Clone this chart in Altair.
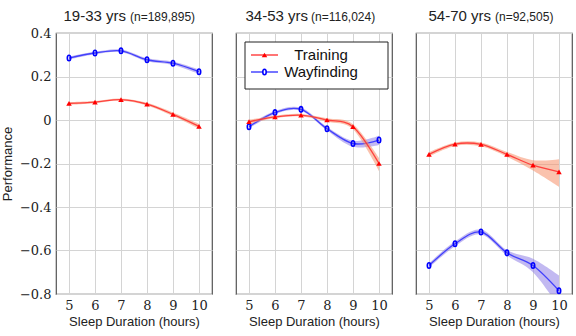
import altair as alt
import pandas as pd

# ---------------- data ----------------
hours = [5, 6, 7, 8, 9, 10]
panels = ["19-33 yrs", "34-53 yrs", "54-70 yrs"]
ns = ["(n=189,895)", "(n=116,024)", "(n=92,505)"]
series_names = ["Training", "Wayfinding"]

train_1 = [0.076, 0.082, 0.094, 0.073, 0.026, -0.029]
train_1_lo = [0.070, 0.077, 0.089, 0.067, 0.018, -0.040]
train_1_hi = [0.082, 0.087, 0.099, 0.079, 0.034, -0.018]
way_1 = [0.285, 0.308, 0.318, 0.277, 0.261, 0.222]
way_1_lo = [0.278, 0.302, 0.312, 0.270, 0.253, 0.212]
way_1_hi = [0.292, 0.314, 0.324, 0.284, 0.269, 0.232]

train_2 = [-0.008, 0.014, 0.022, 0.000, -0.031, -0.200]
train_2_lo = [-0.017, 0.008, 0.016, -0.008, -0.043, -0.235]
train_2_hi = [0.001, 0.020, 0.028, 0.008, -0.019, -0.174]
way_2 = [-0.031, 0.034, 0.049, -0.040, -0.108, -0.092]
way_2_lo = [-0.039, 0.027, 0.042, -0.048, -0.123, -0.115]
way_2_hi = [-0.023, 0.041, 0.056, -0.032, -0.095, -0.072]

train_3 = [-0.158, -0.111, -0.112, -0.158, -0.208, -0.238]
train_3_lo = [-0.168, -0.119, -0.121, -0.169, -0.232, -0.307]
train_3_hi = [-0.148, -0.103, -0.103, -0.147, -0.185, -0.180]
way_3 = [-0.669, -0.569, -0.515, -0.611, -0.669, -0.785]
way_3_lo = [-0.679, -0.580, -0.526, -0.623, -0.700, -0.860]
way_3_hi = [-0.659, -0.558, -0.504, -0.599, -0.638, -0.715]

all_series = [
    [(train_1, train_1_lo, train_1_hi), (way_1, way_1_lo, way_1_hi)],
    [(train_2, train_2_lo, train_2_hi), (way_2, way_2_lo, way_2_hi)],
    [(train_3, train_3_lo, train_3_hi), (way_3, way_3_lo, way_3_hi)],
]

# ---------------- styles ----------------
LINE_COL = {"Training": "#ff2a2a", "Wayfinding": "#2a2aff"}
BAND_COL = {"Training": "#f6906a", "Wayfinding": "#8f7fe6"}
MARK_COL = {"Training": "#ff0000", "Wayfinding": "#0000ff"}
SANS = "Liberation Sans"
SERIF = "DejaVu Serif"
ELLIPSE = "M0,-1 A0.62,1 0 1,1 0,1 A0.62,1 0 1,1 0,-1 Z"

PW, PH = 156, 261
x_enc = alt.X("hours:Q", scale=alt.Scale(domain=[4.5, 10.5], nice=False, zero=False),
              axis=alt.Axis(values=hours, format="d", title="Sleep Duration (hours)",
                            labelFont=SERIF, labelFontSize=13, labelColor="#222",
                            labelPadding=5, titleFont=SANS, titleFontSize=13,
                            titleFontWeight="normal", titleColor="#222", titlePadding=3,
                            ticks=False, domain=False, grid=True, gridColor="#d4d4d4",
                            labelFlush=False))
yscale = alt.Scale(domain=[-0.8, 0.4], nice=False, zero=False)


def y_axis(first):
    if first:
        return alt.Axis(values=[-0.8, -0.6, -0.4, -0.2, 0, 0.2, 0.4],
                        labelExpr="datum.value == 0 ? '0' : format(datum.value, '.1f')",
                        title="Performance", labelFont=SERIF, labelFontSize=13,
                        labelColor="#222", labelPadding=5, titleFont=SANS, titleFontSize=13,
                        titleFontWeight="normal", titleColor="#222", titlePadding=5,
                        ticks=False, domain=False, grid=True, gridColor="#d4d4d4")
    return alt.Axis(values=[-0.8, -0.6, -0.4, -0.2, 0, 0.2, 0.4], labels=False, title=None,
                    ticks=False, domain=False, grid=True, gridColor="#d4d4d4")


def panel(i):
    rows = []
    for name, (m, lo, hi) in zip(series_names, all_series[i]):
        for h, v, l, u in zip(hours, m, lo, hi):
            rows.append({"hours": h, "value": v, "lower": l, "upper": u, "series": name})
    df = pd.DataFrame(rows)
    layers = []
    for name in ["Wayfinding", "Training"]:
        sub = alt.Chart(df).transform_filter(alt.datum.series == name)
        band = sub.mark_area(interpolate="cardinal", clip=True, opacity=0.55,
                             color=BAND_COL[name]).encode(
            x=x_enc, y=alt.Y("lower:Q", scale=yscale, axis=y_axis(i == 0)), y2="upper:Q")
        line = sub.mark_line(interpolate="cardinal", clip=True, strokeWidth=1.3,
                             color=LINE_COL[name], opacity=0.85).encode(
            x=x_enc, y=alt.Y("value:Q", scale=yscale))
        if name == "Training":
            pts = sub.mark_point(shape="triangle-up", filled=True, size=30,
                                 color=MARK_COL[name], opacity=1).encode(
                x=x_enc, y=alt.Y("value:Q", scale=yscale))
        else:
            pts = sub.mark_point(shape=ELLIPSE, filled=False, size=30, strokeWidth=1.6,
                                 color=MARK_COL[name], opacity=1).encode(
                x=x_enc, y=alt.Y("value:Q", scale=yscale))
        layers += [band, line, pts]

    # title made of two text pieces
    t1 = alt.Chart(pd.DataFrame({"t": [panels[i]]})).mark_text(
        font=SANS, fontSize=15, fontWeight="normal", align="right", baseline="alphabetic",
        color="#222").encode(
        x=alt.value([70, 72, 75][i]), y=alt.value(-12), text="t:N")
    t2 = alt.Chart(pd.DataFrame({"t": [ns[i]]})).mark_text(
        font=SANS, fontSize=12, fontWeight="normal", align="left", baseline="alphabetic",
        color="#222").encode(
        x=alt.value([74, 75, 79][i]), y=alt.value(-12), text="t:N")
    layers += [t1, t2]

    if i == 1:
        box = alt.Chart(pd.DataFrame({"k": [0]})).mark_rect(
            fill="white", stroke="#222", strokeWidth=1).encode(
            x=alt.value(9), x2=alt.value(152), y=alt.value(9), y2=alt.value(56))
        layers.append(box)
        for j, name in enumerate(series_names):
            yy = [22, 39][j]
            seg = alt.Chart(pd.DataFrame({"s": [name]})).mark_rule(
                color=LINE_COL[name], strokeWidth=1.3).encode(
                x=alt.value(15), x2=alt.value(42), y=alt.value(yy))
            if name == "Training":
                mk = alt.Chart(pd.DataFrame({"s": [name]})).mark_point(
                    shape="triangle-up", filled=True, size=30, color=MARK_COL[name],
                    opacity=1).encode(x=alt.value(28.5), y=alt.value(yy))
            else:
                mk = alt.Chart(pd.DataFrame({"s": [name]})).mark_point(
                    shape=ELLIPSE, filled=True, fill="white", stroke=MARK_COL[name],
                    size=30, strokeWidth=1.6, opacity=1).encode(
                    x=alt.value(28.5), y=alt.value(yy))
            tx = alt.Chart(pd.DataFrame({"s": [name]})).mark_text(
                font=SANS, fontSize=15, align="center", baseline="middle",
                color="#111").encode(x=alt.value(85), y=alt.value(yy), text="s:N")
            layers += [seg, mk, tx]

    return alt.layer(*layers).properties(width=PW, height=PH)


chart = alt.hconcat(panel(0), panel(1), panel(2), spacing=22).properties(
    padding={"left": 0, "top": 8, "right": 0, "bottom": 0}
).configure_view(stroke="#555", strokeWidth=1.2)

chart.save("out.html", embed_options={"renderer": "svg", "actions": False})
